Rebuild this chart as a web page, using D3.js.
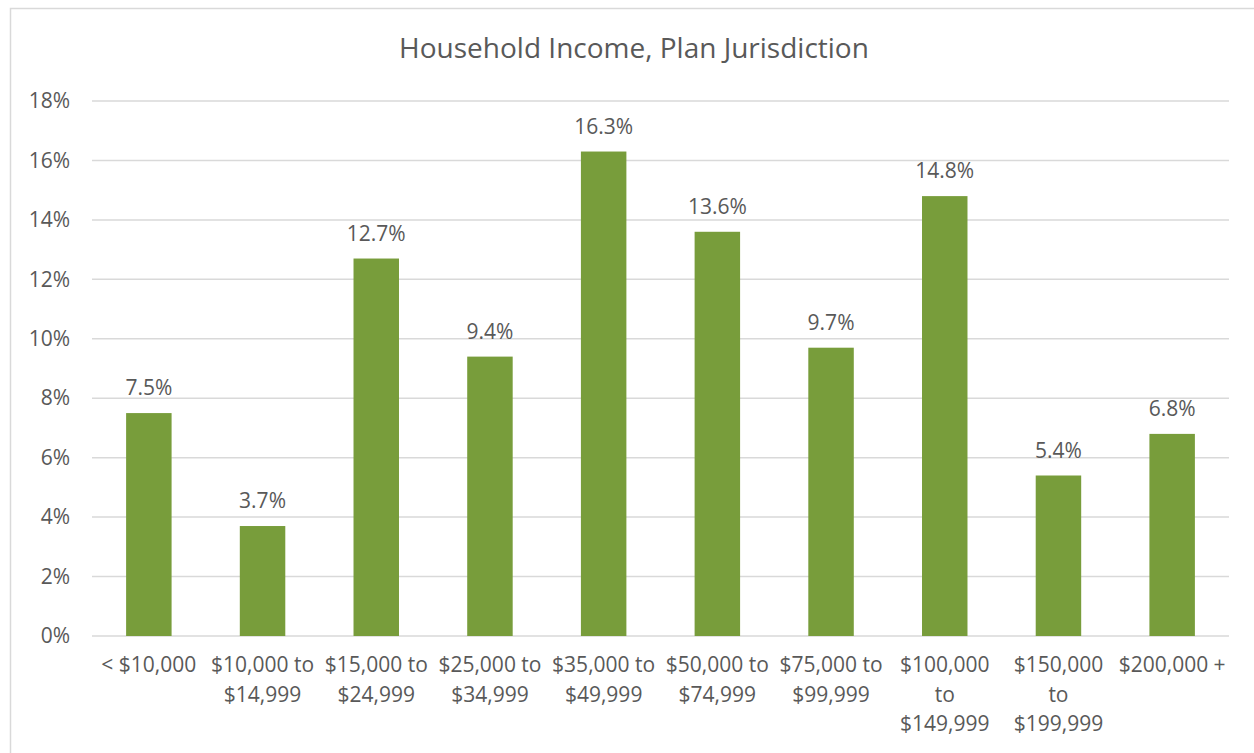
<!DOCTYPE html>
<html>
<head>
<meta charset="utf-8">
<script src="https://cdn.jsdelivr.net/npm/d3@7"></script>
<style>
  html, body { margin: 0; padding: 0; background: #fff; overflow: hidden; }
  svg { display: block; }
  text { font-family: "Open Sans", "Liberation Sans", sans-serif; fill: #595959; }
</style>
</head>
<body>
<div id="chart"></div>
<script>
// Data
const categories = [
    ['< $10,000'],
    ['$10,000 to', '$14,999'],
    ['$15,000 to', '$24,999'],
    ['$25,000 to', '$34,999'],
    ['$35,000 to', '$49,999'],
    ['$50,000 to', '$74,999'],
    ['$75,000 to', '$99,999'],
    ['$100,000', 'to', '$149,999'],
    ['$150,000', 'to', '$199,999'],
    ['$200,000 +']
];
const values = [7.5, 3.7, 12.7, 9.4, 16.3, 13.6, 9.7, 14.8, 5.4, 6.8];
const yTicks = [0, 2, 4, 6, 8, 10, 12, 14, 16, 18];
const chartTitle = 'Household Income, Plan Jurisdiction';

const width = 1254, height = 753;
const margin = { top: 101, right: 25, bottom: 117, left: 92 };
const innerWidth = width - margin.left - margin.right;
const innerHeight = height - margin.top - margin.bottom;

const svg = d3.select('#chart')
    .append('svg')
    .attr('width', width)
    .attr('height', height);

// Chart border (right and bottom edges sit outside the picture)
svg.append('path')
    .attr('d', `M${width},8.5H10.5V${height}`)
    .attr('fill', 'none')
    .attr('stroke', '#d9d9d9')
    .attr('stroke-width', 1.5);

// Title
svg.append('text')
    .attr('x', 634)
    .attr('y', 58)
    .attr('text-anchor', 'middle')
    .attr('font-size', '28px')
    .text(chartTitle);

const g = svg.append('g')
    .attr('transform', `translate(${margin.left},${margin.top})`);

const x = d3.scaleBand()
    .domain(d3.range(categories.length))
    .range([0, innerWidth])
    .paddingInner(0.6)
    .paddingOuter(0.3);

const y = d3.scaleLinear()
    .domain([0, 18])
    .range([innerHeight, 0]);

// Gridlines
g.append('g')
    .selectAll('line')
    .data(yTicks)
    .join('line')
    .attr('x1', 0)
    .attr('x2', innerWidth)
    .attr('y1', d => y(d))
    .attr('y2', d => y(d))
    .attr('stroke', '#d9d9d9')
    .attr('stroke-width', 1.5);

// Y axis labels
const yAxis = d3.axisLeft(y)
    .tickValues(yTicks)
    .tickFormat(d => d + '%')
    .tickSize(0)
    .tickPadding(22);
g.append('g')
    .attr('class', 'y-axis')
    .call(yAxis)
    .call(a => a.select('.domain').remove())
    .selectAll('text')
    .attr('font-size', '21px')
    .attr('font-family', '"Open Sans", sans-serif')
    .attr('fill', '#595959');

// Bars
g.append('g')
    .selectAll('rect')
    .data(values)
    .join('rect')
    .attr('x', (d, i) => x(i))
    .attr('y', d => y(d))
    .attr('width', x.bandwidth())
    .attr('height', d => innerHeight - y(d))
    .attr('fill', '#789d3b');

// Value labels
g.append('g')
    .selectAll('text')
    .data(values)
    .join('text')
    .attr('x', (d, i) => x(i) + x.bandwidth() / 2)
    .attr('y', d => y(d) - 18)
    .attr('text-anchor', 'middle')
    .attr('font-size', '21px')
    .text(d => d.toFixed(1) + '%');

// X axis labels, one text per line
const xLines = categories.flatMap((lines, i) => lines.map((line, j) => ({ line, i, j })));
g.append('g')
    .attr('transform', `translate(0,${innerHeight})`)
    .selectAll('text')
    .data(xLines)
    .join('text')
    .attr('x', d => x(d.i) + x.bandwidth() / 2)
    .attr('y', d => 36 + d.j * 29.5)
    .attr('text-anchor', 'middle')
    .attr('font-size', '21px')
    .text(d => d.line);
</script>
</body>
</html>
